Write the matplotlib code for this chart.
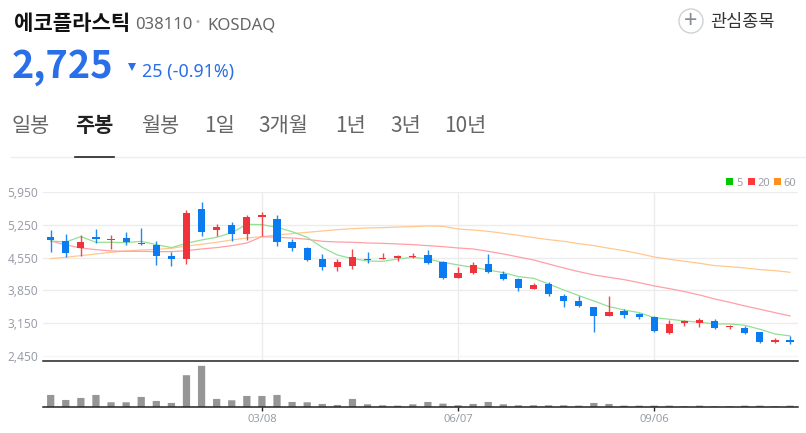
import matplotlib
matplotlib.use('Agg')
import matplotlib.pyplot as plt
from matplotlib.patches import Circle, Rectangle

plt.rcParams['font.family'] = ['Noto Sans CJK KR', 'DejaVu Sans']

W, H = 806, 433

# weekly candles
opens = [4995, 4908, 4766, 4987, 4937, 4972, 4865, 4823, 4587, 4530,
         5593, 5136, 5250, 5058, 5429, 5378, 4887, 4758, 4516, 4345,
         4380, 4523, 4523, 4544, 4566, 4608, 4459, 4124, 4231, 4416,
         4209, 4095, 3889, 3989, 3732, 3625, 3497, 3304, 3411, 3347,
         3276, 2940, 3154, 3161, 3197, 3062, 3055, 2955, 2755, 2784]
closes = [4925, 4659, 4887, 4958, 4951, 4887, 4844, 4595, 4530, 5507,
          5108, 5201, 5058, 5422, 5471, 4894, 4765, 4501, 4345, 4452,
          4559, 4501, 4544, 4594, 4594, 4444, 4124, 4223, 4395, 4245,
          4095, 3903, 3967, 3775, 3625, 3525, 3311, 3390, 3333, 3283,
          2990, 3133, 3197, 3218, 3055, 3083, 2948, 2755, 2791, 2748]
highs = [5140, 5058, 5037, 5165, 5029, 5094, 5186, 4908, 4673, 5571,
         5742, 5272, 5307, 5457, 5529, 5464, 4958, 4772, 4630, 4516,
         4737, 4665, 4651, 4616, 4651, 4715, 4480, 4352, 4459, 4630,
         4273, 4124, 4003, 4024, 3775, 3739, 3497, 3732, 3447, 3368,
         3297, 3218, 3218, 3254, 3240, 3119, 3097, 2955, 2841, 2876]
lows = [4680, 4566, 4587, 4873, 4737, 4830, 4830, 4395, 4381, 4423,
        5022, 5022, 4908, 4930, 5015, 4808, 4701, 4487, 4288, 4266,
        4302, 4444, 4516, 4487, 4544, 4423, 4088, 4124, 4202, 4223,
        4081, 3838, 3874, 3739, 3497, 3497, 2955, 3304, 3268, 3240,
        2969, 2919, 3097, 3076, 3033, 3033, 2926, 2734, 2734, 2698]
ma5 = [4908, 4887, 5001, 4880, 4880, 4873, 4901, 4830, 4766, 4858,
       4930, 4987, 5086, 5265, 5258, 5200, 5107, 4986, 4772, 4608,
       4530, 4480, 4473, 4523, 4559, 4523, 4452, 4395, 4345, 4288,
       4230, 4145, 4110, 3989, 3860, 3739, 3625, 3504, 3432, 3375,
       3268, 3233, 3197, 3169, 3133, 3133, 3104, 3019, 2919, 2876]
ma20 = [4908, 4823, 4758, 4723, 4694, 4687, 4687, 4680, 4680, 4701,
        4737, 4766, 4808, 4865, 5001, 4986, 4972, 4944, 4901, 4887,
        4880, 4865, 4858, 4844, 4830, 4808, 4787, 4758, 4737, 4687,
        4630, 4566, 4502, 4416, 4331, 4252, 4181, 4131, 4081, 4017,
        3946, 3889, 3825, 3753, 3668, 3596, 3518, 3447, 3375, 3304]
ma60 = [4530, 4559, 4595, 4630, 4666, 4694, 4716, 4730, 4751, 4801,
        4837, 4880, 4930, 4972, 5001, 5036, 5065, 5093, 5122, 5150,
        5172, 5186, 5193, 5207, 5215, 5229, 5222, 5165, 5143, 5115,
        5072, 5029, 4980, 4937, 4901, 4851, 4809, 4752, 4702, 4637,
        4566, 4516, 4473, 4431, 4381, 4359, 4331, 4295, 4274, 4238]
volumes = [37, 22, 28, 37, 15, 15, 31, 19, 13, 96,
           124, 25, 21, 34, 34, 37, 16, 15, 10, 7,
           25, 9, 6, 5, 9, 16, 11, 6, 10, 16,
           9, 6, 6, 6, 6, 5, 13, 10, 5, 5,
           5, 5, 3, 5, 3, 3, 5, 5, 3, 5]

price_ticks = [2450, 3150, 3850, 4550, 5250, 5950]
date_idx = [14, 27, 40]
date_labels = ['03/08', '06/07', '09/06']
tabs = ['일봉', '주봉', '월봉', '1일', '3개월', '1년', '3년', '10년']
tab_x = [12, 75, 141, 204, 258, 335, 390, 444]

BLUE = '#0b7bf0'
RED = '#f0333b'
GRID = '#ececec'
LABEL = '#9a9fa8'
ACCENT = '#2a6fe8'

fig = plt.figure(figsize=(W / 100, H / 100), dpi=100, facecolor='white')


def add_axes(left, top, right, bottom):
    return fig.add_axes([left / W, 1 - bottom / H, (right - left) / W, (bottom - top) / H])


xs = list(range(len(closes)))
xlim = (-0.51, 49.53)

# price panel
ax = add_axes(43, 192.3, 798, 360.5)
ax.set_xlim(*xlim)
ax.set_ylim(2350, 5950)
ax.set_yticks(price_ticks)
ax.set_yticklabels([f'{p:,}' for p in price_ticks], fontsize=8.6, color=LABEL, family='Noto Sans')
ax.set_xticks(date_idx)
ax.set_xticklabels([])
ax.tick_params(length=0, pad=3.5)
ax.set_axisbelow(True)
ax.grid(True, color=GRID, linewidth=1)
for s in ['left', 'right', 'top']:
    ax.spines[s].set_visible(False)
ax.spines['bottom'].set_color('#222222')
ax.spines['bottom'].set_linewidth(1.1)
ax.get_ygridlines()[0].set_color('#f5f5f5')
ax.patch.set_alpha(0)

ax.plot(xs, ma60, color='#ffc88f', linewidth=0.9, zorder=2)
ax.plot(xs, ma20, color='#ffa0a6', linewidth=0.9, zorder=2)
ax.plot(xs, ma5, color='#93e093', linewidth=0.9, zorder=2)

for x, o, c, hi, lo in zip(xs, opens, closes, highs, lows):
    col = RED if c > o else BLUE
    ax.vlines(x, lo, hi, color=col, linewidth=1.0, alpha=0.9, zorder=3)
    ax.bar(x, abs(c - o), bottom=min(o, c), width=0.48, color=col, zorder=3)

# volume panel
vax = add_axes(43, 360.5, 798, 407.3)
vax.set_xlim(*xlim)
vax.set_ylim(0, 140)
bars = vax.bar(xs, volumes, width=0.48, color='#969696')
for b in bars:
    b.set_snap(False)
vax.set_yticks([])
vax.set_xticks(date_idx)
vax.set_xticklabels(date_labels, fontsize=8.1, color=LABEL, family='Noto Sans')
vax.tick_params(axis='x', length=3, width=1, color='#222222', pad=2)
for s in ['left', 'right', 'top']:
    vax.spines[s].set_visible(False)
vax.spines['bottom'].set_color('#222222')
vax.spines['bottom'].set_linewidth(1.1)
vax.patch.set_alpha(0)

# header drawn in pixel coordinates
top = add_axes(0, 0, W, H)
top.set_xlim(0, W)
top.set_ylim(H, 0)
top.axis('off')
top.patch.set_alpha(0)

top.text(14, 30, '에코플라스틱', fontsize=15.2, fontweight='bold', color='#111111', va='baseline')
top.text(135, 29, '038110', fontsize=12, color='#666666', va='baseline', family='Noto Sans')
top.add_patch(Circle((198, 21.5), 1.5, color='#bbbbbb', lw=0))
top.text(207, 29, 'KOSDAQ', fontsize=12, color='#666666', va='baseline', family='Noto Sans')
top.text(12, 78, '2,725', fontsize=27.3, fontweight='bold', color=ACCENT, va='baseline')
top.plot([132], [67], marker='v', markersize=6, color=ACCENT, markeredgewidth=0)
top.text(142, 77, '25 (-0.91%)', fontsize=12.9, color=ACCENT, va='baseline', family='Noto Sans')

for label, x in zip(tabs, tab_x):
    active = label == '주봉'
    top.text(x, 132, label, fontsize=15, va='baseline',
             fontweight='bold' if active else 'normal',
             color='#222222' if active else '#666666')
top.plot([11, 806], [156.5, 156.5], color='#eeeeee', linewidth=1)
top.plot([75, 114], [156.5, 156.5], color='#222222', linewidth=1.2)

top.add_patch(Circle((691, 21), 12, facecolor='white', edgecolor='#cfd2d6', linewidth=1))
top.text(691, 22, '+', fontsize=17, color='#888c94', ha='center', va='center', family='Noto Sans')
top.text(710, 27, '관심종목', fontsize=12.6, color='#333333', va='baseline')

# legend
for sq_x, txt_x, col, label in [(726, 736, '#00c800', '5'),
                                (748, 757, '#ff3a3a', '20'),
                                (774, 783, '#ff9020', '60')]:
    top.add_patch(Rectangle((sq_x, 178), 7, 7, color=col, lw=0))
    top.text(txt_x, 185.5, label, fontsize=8, color=LABEL, va='baseline', family='Noto Sans')

fig.savefig('out.png', dpi=100)
